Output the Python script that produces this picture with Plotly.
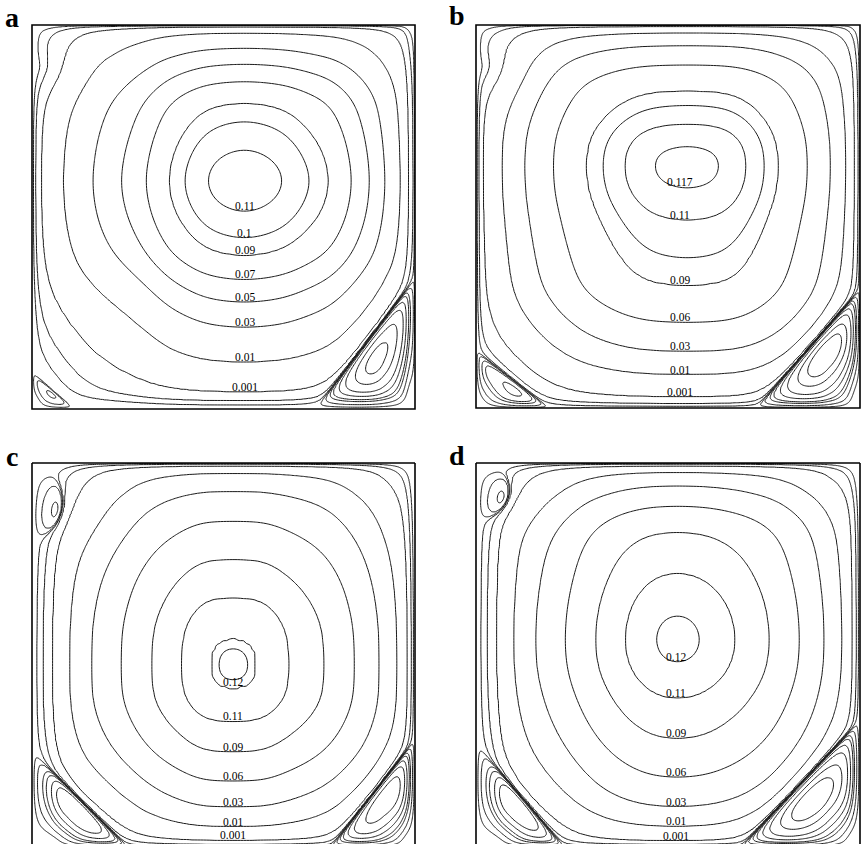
import numpy as np
import plotly.graph_objects as go

# ---------------- values ----------------
# distances are fractions of the cavity side; levels are stream-function values
# Panel a
A_PSI_MAX = 0.1145
A_CENTER = [0.555, 0.594]
A_PROFILE_LEVELS = [1e-4, 0.001, 0.01, 0.03, 0.05, 0.07, 0.09, 0.10, 0.11]
A_LEFT = [0.010, 0.024, 0.081, 0.157, 0.235, 0.300, 0.355, 0.400, 0.455]
A_RIGHT = [0.005, 0.018, 0.036, 0.073, 0.117, 0.165, 0.222, 0.279, 0.345]
A_BOTTOM = [0.023, 0.044, 0.122, 0.214, 0.279, 0.338, 0.398, 0.448, 0.518]
A_TOP = [0.002, 0.005, 0.020, 0.058, 0.100, 0.147, 0.200, 0.255, 0.330]
A_ROUND = [1.4, 0.6]
A_EDDY_BL = [0.11, 0.096, -6e-5]
A_EDDY_BR = [0.26, 0.34, -1.75e-3]
A_EDDY_TL = [0.05, 0.12, 0.09, 0.0, 0.0]
A_BULGE_TL = [0.12, 0.11, 0.10, 0.97]
A_CONTOURS = [-1.5e-3, -1e-3, -5e-4, -2.5e-4, -1e-4, -5e-5, -1e-5, -1e-6,
              1e-5, 1e-4, 0.001, 0.01, 0.03, 0.05, 0.07, 0.09, 0.10, 0.11]
A_LABELS = ["0.11", "0.1", "0.09", "0.07", "0.05", "0.03", "0.01", "0.001"]
A_LABEL_X = 0.555

# Panel b
B_PSI_MAX = 0.1185
B_CENTER = [0.55, 0.632]
B_PROFILE_LEVELS = [1e-4, 0.001, 0.01, 0.03, 0.06, 0.09, 0.10, 0.11, 0.117]
B_LEFT = [0.008, 0.018, 0.068, 0.125, 0.200, 0.285, 0.330, 0.385, 0.460]
B_RIGHT = [0.005, 0.015, 0.035, 0.072, 0.135, 0.210, 0.248, 0.292, 0.360]
B_BOTTOM = [0.012, 0.029, 0.089, 0.146, 0.222, 0.316, 0.395, 0.496, 0.574]
B_TOP = [0.001, 0.004, 0.020, 0.052, 0.100, 0.168, 0.210, 0.258, 0.310]
B_ROUND = [1.4, 0.6]
B_EDDY_BL = [0.19, 0.15, -3e-4]
B_EDDY_BR = [0.27, 0.31, -2.0e-3]
B_EDDY_TL = [0.05, 0.12, 0.08, 0.0, 0.0]
B_BULGE_TL = [0.13, 0.11, 0.10, 0.97]
B_CONTOURS = [-1.5e-3, -1e-3, -5e-4, -2.5e-4, -1e-4, -5e-5, -1e-5, -1e-6,
              1e-5, 1e-4, 0.001, 0.01, 0.03, 0.06, 0.09, 0.10, 0.11, 0.117]
B_LABELS = ["0.117", "0.11", "0.09", "0.06", "0.03", "0.01", "0.001"]
B_LABEL_X = 0.53

# Panel c
C_PSI_MAX = 0.1208
C_CENTER = [0.525, 0.474]
C_PROFILE_LEVELS = [1e-4, 0.001, 0.01, 0.03, 0.06, 0.09, 0.11, 0.12]
C_LEFT = [0.030, 0.060, 0.094, 0.154, 0.232, 0.310, 0.390, 0.450]
C_RIGHT = [0.010, 0.021, 0.044, 0.091, 0.156, 0.234, 0.330, 0.400]
C_BOTTOM = [0.007, 0.017, 0.052, 0.102, 0.170, 0.245, 0.325, 0.400]
C_TOP = [0.003, 0.008, 0.025, 0.070, 0.150, 0.250, 0.350, 0.451]
C_ROUND = [2.0, 1.0]
C_EDDY_BL = [0.25, 0.25, -1.0e-3]
C_EDDY_BR = [0.22, 0.28, -1.5e-3]
C_EDDY_TL = [0.046, 0.10, 0.055, 20.0, -6e-5]
C_BULGE_TL = [0.16, 0.10, 0.12, 0.8]
C_CONTOURS = [-1.5e-3, -1e-3, -5e-4, -2.5e-4, -1e-4, -5e-5, -1e-5, -1e-6,
              1e-5, 1e-4, 0.001, 0.01, 0.03, 0.06, 0.09, 0.11, 0.12, 0.1205]
C_LABELS = ["0.12", "0.11", "0.09", "0.06", "0.03", "0.01", "0.001"]
C_LABEL_X = 0.525

# Panel d
D_PSI_MAX = 0.1215
D_CENTER = [0.525, 0.54]
D_PROFILE_LEVELS = [1e-4, 0.001, 0.01, 0.03, 0.06, 0.09, 0.11, 0.12]
D_LEFT = [0.030, 0.060, 0.094, 0.154, 0.232, 0.310, 0.388, 0.466]
D_RIGHT = [0.010, 0.021, 0.044, 0.091, 0.156, 0.234, 0.326, 0.417]
D_BOTTOM = [0.007, 0.016, 0.053, 0.102, 0.180, 0.282, 0.389, 0.480]
D_TOP = [0.003, 0.008, 0.023, 0.057, 0.110, 0.175, 0.290, 0.400]
D_ROUND = [2.0, 1.0]
D_EDDY_BL = [0.23, 0.27, -1.0e-3]
D_EDDY_BR = [0.31, 0.33, -2.0e-3]
D_EDDY_TL = [0.05, 0.07, 0.045, 20.0, -6e-5]
D_BULGE_TL = [0.15, 0.08, 0.10, 0.8]
D_CONTOURS = [-1.5e-3, -1e-3, -5e-4, -2.5e-4, -1e-4, -5e-5, -1e-5, -1e-6,
              1e-5, 1e-4, 0.001, 0.01, 0.03, 0.06, 0.09, 0.11, 0.12]
D_LABELS = ["0.12", "0.11", "0.09", "0.06", "0.03", "0.01", "0.001"]
D_LABEL_X = 0.52

PANEL_NAMES = ["a", "b", "c", "d"]


def panel(psimax, center, lev, left, right, bottom, top, rnd, bl, br, tl, bulge, contours, labels, labx):
    return dict(psimax=psimax, center=center, lev=lev, left=left, right=right, bottom=bottom,
                top=top, rnd=rnd, bl=bl, br=br, tl=tl, bulge=bulge, contours=contours,
                labels=labels, labx=labx)


PANELS = [
    panel(A_PSI_MAX, A_CENTER, A_PROFILE_LEVELS, A_LEFT, A_RIGHT, A_BOTTOM, A_TOP, A_ROUND,
          A_EDDY_BL, A_EDDY_BR, A_EDDY_TL, A_BULGE_TL, A_CONTOURS, A_LABELS, A_LABEL_X),
    panel(B_PSI_MAX, B_CENTER, B_PROFILE_LEVELS, B_LEFT, B_RIGHT, B_BOTTOM, B_TOP, B_ROUND,
          B_EDDY_BL, B_EDDY_BR, B_EDDY_TL, B_BULGE_TL, B_CONTOURS, B_LABELS, B_LABEL_X),
    panel(C_PSI_MAX, C_CENTER, C_PROFILE_LEVELS, C_LEFT, C_RIGHT, C_BOTTOM, C_TOP, C_ROUND,
          C_EDDY_BL, C_EDDY_BR, C_EDDY_TL, C_BULGE_TL, C_CONTOURS, C_LABELS, C_LABEL_X),
    panel(D_PSI_MAX, D_CENTER, D_PROFILE_LEVELS, D_LEFT, D_RIGHT, D_BOTTOM, D_TOP, D_ROUND,
          D_EDDY_BL, D_EDDY_BR, D_EDDY_TL, D_BULGE_TL, D_CONTOURS, D_LABELS, D_LABEL_X),
]


# ---------------- helpers ----------------
def pchip(xk, yk, xq):
    xk = np.asarray(xk, float)
    yk = np.asarray(yk, float)
    xq = np.asarray(xq, float)
    h = np.diff(xk)
    dl = np.diff(yk) / h
    n = len(xk)
    d = np.zeros(n)
    for k in range(1, n - 1):
        if dl[k - 1] * dl[k] > 0:
            w1 = 2 * h[k] + h[k - 1]
            w2 = h[k] + 2 * h[k - 1]
            d[k] = (w1 + w2) / (w1 / dl[k - 1] + w2 / dl[k])

    def endslope(h0, h1, d0, d1):
        s = ((2 * h0 + h1) * d0 - h0 * d1) / (h0 + h1)
        if np.sign(s) != np.sign(d0):
            s = 0.0
        elif np.sign(d0) != np.sign(d1) and abs(s) > 3 * abs(d0):
            s = 3 * d0
        return s

    d[0] = endslope(h[0], h[1], dl[0], dl[1])
    d[-1] = endslope(h[-1], h[-2], dl[-1], dl[-2])
    idx = np.clip(np.searchsorted(xk, xq) - 1, 0, n - 2)
    t = (xq - xk[idx]) / h[idx]
    h00 = 2 * t**3 - 3 * t**2 + 1
    h10 = t**3 - 2 * t**2 + t
    h01 = -2 * t**3 + 3 * t**2
    h11 = t**3 - t**2
    return h00 * yk[idx] + h10 * h[idx] * d[idx] + h01 * yk[idx + 1] + h11 * h[idx] * d[idx + 1]


FINE = np.linspace(0, 1, 801)


def smooth_profile(lo, hi, c, lev, psimax, sigma0=0.03):
    s = list(np.sqrt(np.asarray(lev) / psimax))
    xk = [0.0] + list(lo) + [c] + [1 - v for v in hi[::-1]] + [1.0]
    yk = [0.0] + s + [1.0] + s[::-1] + [0.0]
    sf = np.clip(pchip(xk, yk, FINE), 0, 1)
    # odd extension at both walls; smoothing width shrinks near the walls
    xe = np.concatenate([-FINE[:0:-1], FINE, 2 - FINE[-2::-1]])
    se = np.concatenate([-sf[:0:-1], sf, -sf[-2::-1]])
    dw = np.minimum(FINE, 1 - FINE)
    sig = sigma0 * np.clip(dw / 0.08, 0.05, 1.0)
    K = np.exp(-0.5 * ((xe[None, :] - FINE[:, None]) / sig[:, None]) ** 2)
    ss = (K @ se) / K.sum(axis=1)
    ss[0] = 0.0
    ss[-1] = 0.0
    ss = np.clip(ss / ss.max(), 0, 1)
    return ss ** 2


def primary(P, X, Y):
    px = np.interp(X, FINE, P["px"])
    qy = np.interp(Y, FINE, P["qy"])
    bb, bt = P["rnd"]
    beta = bb + (bt - bb) / (1 + np.exp(-(Y - P["center"][1]) / 0.08))
    return P["psimax"] * px * qy * np.clip(px + qy - px * qy, 1e-12, 1) ** beta


def raw_factors(P, X, Y):
    out = []
    u0, v0, _ = P["br"]
    r = (1 - X) / u0 + Y / v0
    out.append(1 - np.exp(3.0 * (1 - r**2)))
    u0, v0, _ = P["bl"]
    r = X / u0 + Y / v0
    out.append(1 - np.exp(3.0 * (1 - r**2)))
    a, d0, w, kap, _ = P["tl"]
    g = (X / a) ** 2 + ((1 - Y - d0) / w) ** 2
    out.append(1 - kap * np.exp(-g))
    return out


def bulge(P, X, Y):
    a, d0, w, kap = P["bulge"]
    g = (X / a) ** 2 + ((1 - Y - d0) / w) ** 2
    return 1 - kap * np.exp(-g)


def calibrate(P, X, Y):
    base = primary(P, X, Y) * bulge(P, X, Y)
    scales = []
    for F, spec in zip(raw_factors(P, X, Y), [P["br"], P["bl"], P["tl"]]):
        target = spec[-1]
        m = np.min(base * F)
        scales.append(target / m if (target < 0 and m < 0) else 1.0)
    P["scales"] = scales


def psi_field(P, X, Y):
    psi = primary(P, X, Y) * bulge(P, X, Y)
    for F, lam in zip(raw_factors(P, X, Y), P["scales"]):
        psi = psi * np.where(F < 0, lam * F, F)
    return psi


N = 241
t = np.linspace(0, 1, N)
grid = t - 0.8 * np.sin(2 * np.pi * t) / (2 * np.pi)
t2 = np.linspace(0, 1, 501)
cal_grid = t2 - 0.8 * np.sin(2 * np.pi * t2) / (2 * np.pi)

# panel frames in pixels (866 x 844 canvas)
W, H = 866, 844
FRAMES = [(32, 415, 25, 409), (476, 860, 25, 408), (32, 415, 463, 847), (476, 860, 463, 847)]

fig = go.Figure()
layout = dict(width=W, height=H, margin=dict(l=0, r=0, t=0, b=0),
              paper_bgcolor="white", plot_bgcolor="white", showlegend=False)
shapes = []
annotations = []
FONT = "Liberation Serif, Times New Roman, serif"

for i, P in enumerate(PANELS):
    xs = "" if i == 0 else str(i + 1)
    x0p, x1p, y0p, y1p = FRAMES[i]
    ybot_vis = min(y1p, H)
    yrange0 = (y1p - ybot_vis) / (y1p - y0p)
    layout["xaxis" + xs] = dict(domain=[x0p / W, x1p / W], range=[0, 1], visible=False,
                                anchor="y" + xs, fixedrange=True)
    layout["yaxis" + xs] = dict(domain=[1 - ybot_vis / H, 1 - y0p / H], range=[yrange0, 1],
                                visible=False, anchor="x" + xs, fixedrange=True)
    P["px"] = smooth_profile(P["left"], P["right"], P["center"][0], P["lev"], P["psimax"])
    P["qy"] = smooth_profile(P["bottom"], P["top"], P["center"][1], P["lev"], P["psimax"])
    CX, CY = np.meshgrid(cal_grid, cal_grid)
    calibrate(P, CX, CY)
    X, Y = np.meshgrid(grid, grid)
    psi = psi_field(P, X, Y)
    lv = np.sort(np.asarray(P["contours"], float))
    xp = np.concatenate([[lv[0] - (lv[1] - lv[0])], lv, [lv[-1] + (lv[-1] - lv[-2])]])
    fp = np.arange(-1, len(lv) + 1, dtype=float)
    z = np.round(np.interp(psi, xp, fp), 4)
    fig.add_trace(go.Contour(
        x=grid, y=grid, z=z, xaxis="x" + xs, yaxis="y" + xs,
        contours=dict(start=0, end=len(lv) - 1, size=1, coloring="lines", showlabels=False),
        colorscale=[[0, "#1a1a1a"], [1, "#1a1a1a"]], showscale=False,
        line=dict(width=1, smoothing=1), hoverinfo="skip"))
    # frame
    xr, yr = "x" + xs + " domain", "y" + xs + " domain"
    if y1p <= H:
        shapes.append(dict(type="rect", xref=xr, yref=yr, x0=0, x1=1, y0=0, y1=1,
                           line=dict(color="black", width=1.6)))
    else:
        for (a0, b0, a1, b1) in [(0, 0, 0, 1), (0, 1, 1, 1), (1, 0, 1, 1)]:
            shapes.append(dict(type="line", xref=xr, yref=yr, x0=a0, y0=b0, x1=a1, y1=b1,
                               line=dict(color="black", width=1.6)))
    # labels at the lower crossing of each labelled level on the label column
    yc = P["center"][1]
    ycol = np.linspace(0, yc, 2000)
    col = psi_field(P, np.full_like(ycol, P["labx"]), ycol)
    for txt in P["labels"]:
        L = float(txt)
        below = np.where(col < L)[0]
        if len(below) == 0:
            continue
        j = below[-1]
        annotations.append(dict(x=P["labx"], y=ycol[j], xref="x" + xs, yref="y" + xs,
                                text=txt, showarrow=False, yanchor="middle", yshift=5,
                                font=dict(family=FONT, size=11.5, color="black")))

# panel letters
LETTER_POS = [(12, 17), (457, 16), (12, 456), (457, 455)]
for name, (lx, ly) in zip(PANEL_NAMES, LETTER_POS):
    annotations.append(dict(x=lx / W, y=1 - ly / H, xref="paper", yref="paper", text="<b>%s</b>" % name,
                            showarrow=False, xanchor="center", yanchor="middle",
                            font=dict(family=FONT, size=28, color="black")))

layout["shapes"] = shapes
layout["annotations"] = annotations
fig.update_layout(**layout)
fig.write_html("out.html")
